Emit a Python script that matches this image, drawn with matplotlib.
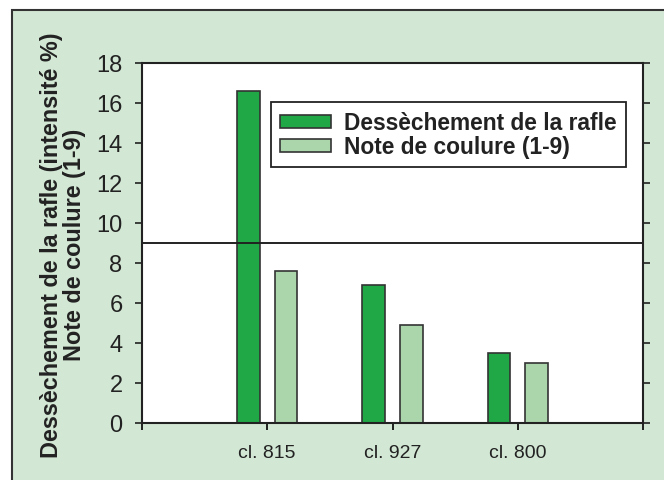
import matplotlib
matplotlib.use("Agg")
import matplotlib.pyplot as plt
from matplotlib.patches import Rectangle
import numpy as np

plt.rcParams["font.family"] = ["Liberation Sans", "DejaVu Sans"]

# données
clones = ["cl. 815", "cl. 927", "cl. 800"]
dessechement = [16.6, 6.9, 3.5]
coulure = [7.6, 4.9, 3.0]
seuil = 9

vert_fonce = "#1fa845"
vert_clair = "#abd5ab"
fond = "#d3e8d4"

fig = plt.figure(figsize=(6.64, 4.81), dpi=100)
fig.patch.set_facecolor("white")

# cadre vert
cadre = Rectangle((12 / 664, -0.05), 1.1, 1.05 - 11 / 481, transform=fig.transFigure,
                  facecolor=fond, edgecolor="#333333", linewidth=1.5, zorder=-5)
fig.patches.append(cadre)

ax = fig.add_axes([142 / 664, 1 - 424 / 481, (643 - 142) / 664, (424 - 64) / 481])
ax.set_facecolor("white")

x = np.arange(len(clones))
w = 0.18
ax.bar(x - 0.15, dessechement, w, color=vert_fonce, edgecolor="#333333", linewidth=1.2,
       label="Dessèchement de la rafle", zorder=2)
ax.bar(x + 0.15, coulure, w, color=vert_clair, edgecolor="#333333", linewidth=1.2,
       label="Note de coulure (1-9)", zorder=2)
ax.axhline(seuil, color="#222222", linewidth=1.4, zorder=3)

ax.set_xlim(-1, 3)
ax.set_ylim(0, 18)
ax.set_xticks([-1, 0, 1, 2, 3])
ax.set_xticklabels(["", "cl. 815", "cl. 927", "cl. 800", ""], fontsize=14, color="#222222")
ax.set_yticks(range(0, 19, 2))
ax.tick_params(axis="y", labelsize=17, length=5, width=1.2, pad=9, colors="#222222",
               right=True, direction="out")
ax.tick_params(axis="x", length=5, width=1.2, pad=10, direction="out")
for s in ax.spines.values():
    s.set_linewidth(1.5)
    s.set_color("#222222")

fig.text(63 / 664, 1 - 245 / 481,
         "Dessèchement de la rafle (intensité %)\nNote de coulure (1-9)",
         rotation=90, ha="center", va="center", ma="center", fontsize=16.8,
         fontweight="bold", color="#222222", linespacing=0.95)

leg = ax.legend(loc="upper left", bbox_to_anchor=(271 / 664, 1 - 103 / 481),
                bbox_transform=fig.transFigure, prop={"size": 16.4, "weight": "bold"},
                fancybox=False, framealpha=1, edgecolor="#222222",
                handlelength=2.25, handleheight=0.5, handletextpad=0.55,
                borderpad=0.4, labelspacing=0.05, borderaxespad=0)
leg.get_frame().set_linewidth(1.3)
for t in leg.get_texts():
    t.set_color("#222222")

fig.savefig("out.png", dpi=100)
